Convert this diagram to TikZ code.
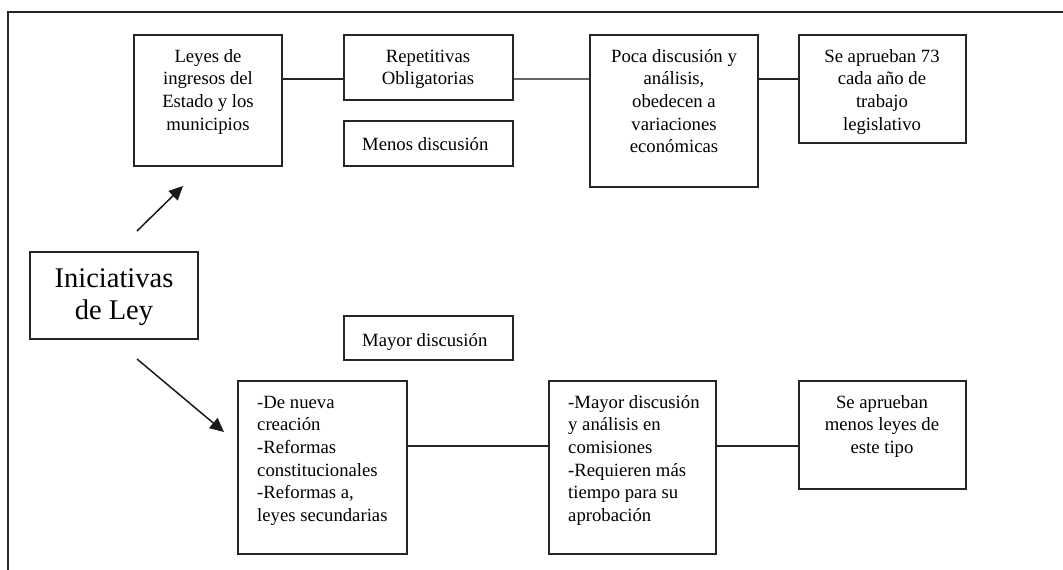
\documentclass[tikz,border=0pt]{standalone}
\usepackage{fontspec}
\setmainfont{Liberation Serif}
\usetikzlibrary{arrows.meta}
\begin{document}
\begin{tikzpicture}[x=1pt,y=-1pt,
  box/.style={draw=black!85, line width=1.2pt, inner sep=0pt, fill=white},
  txt/.style={font=\fontsize{18.7}{22.6}\selectfont, inner sep=0pt, align=center, anchor=north},
  ltxt/.style={font=\fontsize{18.7}{22.6}\selectfont, inner sep=0pt, align=left, anchor=north west},
  link/.style={draw=black!85, line width=1.2pt},
  arr/.style={draw=black!90, line width=1.5pt, -{Triangle[length=14pt,width=13pt]}}]
\useasboundingbox (0,0) rectangle (1063,570);
\fill[white] (0,0) rectangle (1063,570);
% frame
\draw[black!85, line width=1.2pt] (8,575) -- (8,12) -- (1068,12);
% boxes
\node[box, minimum width=148pt, minimum height=131pt] (leyes) at (208,100.5) {};
\node[box, minimum width=169pt, minimum height=65pt] (rep) at (428.5,67.5) {};
\node[box, minimum width=169pt, minimum height=45pt] (menos) at (428.5,143.5) {};
\node[box, minimum width=168pt, minimum height=152pt] (poca) at (674,111) {};
\node[box, minimum width=167pt, minimum height=108pt] (se73) at (882.5,89) {};
\node[box, minimum width=168pt, minimum height=87pt] (inic) at (114,295.5) {};
\node[box, minimum width=169pt, minimum height=44pt] (mayor) at (428.5,338) {};
\node[box, minimum width=169pt, minimum height=173pt] (nueva) at (322.5,467.5) {};
\node[box, minimum width=167pt, minimum height=173pt] (mayan) at (632.5,467.5) {};
\node[box, minimum width=167pt, minimum height=108pt] (menosleyes) at (882.5,435) {};
% texts (north = first baseline - strut height 15.82)
\node[txt] (tleyes) at (208,46.2) {\strut Leyes de\\ingresos del\\Estado y los\\municipios};
\node[txt] (trep) at (428,46.2) {\strut Repetitivas\\Obligatorias};
\node[ltxt] (tmenos) at (362,134.2) {\strut Menos discusión};
\node[txt] (tpoca) at (674,46.2) {\strut Poca discusión y\\análisis,\\obedecen a\\variaciones\\económicas};
\node[txt] (tse73) at (882,46.2) {\strut Se aprueban 73\\cada año de\\trabajo\\legislativo};
\node[txt, font=\fontsize{28.5}{32.5}\selectfont] (tinic) at (114,264.2) {\strut Iniciativas\\de Ley};
\node[ltxt] (tmayor) at (362,330.2) {\strut Mayor discusión};
\node[ltxt] (tnueva) at (257,392.2) {\strut -De nueva\\creación\\-Reformas\\constitucionales\\-Reformas a,\\leyes secundarias};
\node[ltxt] (tmayan) at (568,392.2) {\strut -Mayor discusión\\y análisis en\\comisiones\\-Requieren más\\tiempo para su\\aprobación};
\node[txt] (tmenosleyes) at (882,392.2) {\strut Se aprueban\\menos leyes de\\este tipo};
% connectors
\coordinate (top) at (0,79);
\coordinate (bot) at (0,446);
\draw[link] (leyes.east |- top) -- (rep.west |- top);
\draw[link, draw=black!60] (rep.east |- top) -- (poca.west |- top);
\draw[link] (poca.east |- top) -- (se73.west |- top);
\draw[link] (nueva.east |- bot) -- (mayan.west |- bot);
\draw[link] (mayan.east |- bot) -- (menosleyes.west |- bot);
% arrows
\coordinate (a1s) at (137,231);
\coordinate (a1e) at (183,186);
\coordinate (a2s) at (137,359);
\coordinate (a2e) at (224,432);
\draw[arr] (a1s) -- (a1e);
\draw[arr] (a2s) -- (a2e);
\end{tikzpicture}
\end{document}
